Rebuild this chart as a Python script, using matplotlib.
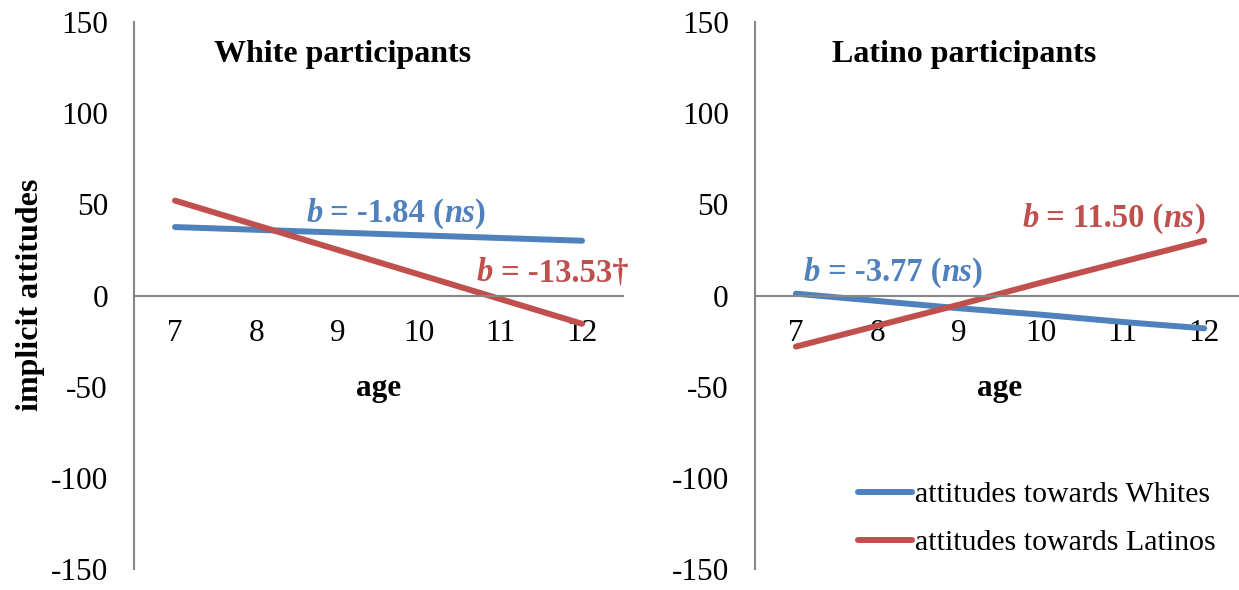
import numpy as np
import matplotlib
matplotlib.use("Agg")
import matplotlib.pyplot as plt

# data
ages = [7, 8, 9, 10, 11, 12]
white_to_whites = [37.5, 36.0, 34.5, 33.0, 31.5, 30.0]
white_to_latinos = [52.0, 38.5, 25.0, 11.5, -2.0, -15.5]
latino_to_whites = [1.0, -3.0, -7.0, -10.5, -14.5, -18.0]
latino_to_latinos = [-28.0, -16.5, -5.0, 7.0, 18.5, 30.0]
yticks = [-150, -100, -50, 0, 50, 100, 150]

BLUE = "#4F81BD"
RED = "#C0504D"
GREY = "#868686"
SERIF = ["Liberation Serif", "DejaVu Serif"]

plt.rcParams["font.family"] = SERIF
plt.rcParams["axes.unicode_minus"] = False


def chained_text(ax, x, y, parts, color, size):
    """draw text made of (string, style) pieces one after the other"""
    t = ax.text(x, y, parts[0][0], color=color, fontsize=size, fontweight="bold",
                fontstyle=parts[0][1], va="center", ha="left")
    for s, style in parts[1:]:
        t = ax.annotate(s, xy=(1, 0), xycoords=t, va="bottom", ha="left",
                        color=color, fontsize=size, fontweight="bold", fontstyle=style)


def setup(ax, title):
    ax.set_xlim(6.5, 12.5)
    ax.set_ylim(-150, 150)
    ax.set_yticks(yticks)
    ax.set_xticks(ages)
    ax.set_xticklabels([str(a) for a in ages])
    for s in ["top", "right"]:
        ax.spines[s].set_visible(False)
    ax.spines["bottom"].set_position(("data", 0))
    ax.spines["bottom"].set_color(GREY)
    ax.spines["left"].set_color(GREY)
    ax.spines["bottom"].set_linewidth(1.5)
    ax.spines["left"].set_linewidth(1.5)
    ax.tick_params(axis="both", length=0, labelsize=22.5)
    ax.tick_params(axis="y", pad=19)
    ax.tick_params(axis="x", pad=17)
    ax.text(0.427, 0.94, title, transform=ax.transAxes, ha="center", va="center",
            fontsize=23, fontweight="bold")
    ax.text(0.5, 0.331, "age", transform=ax.transAxes, ha="center", va="center",
            fontsize=22.5, fontweight="bold")
    ax.patch.set_visible(False)


fig = plt.figure(figsize=(12.39, 5.90), dpi=100)
ax1 = fig.add_axes([0.1084, 0.0351, 0.3942, 0.9281])
ax2 = fig.add_axes([0.6094, 0.0351, 0.3955, 0.9281])

ax1.plot(ages, white_to_whites, color=BLUE, lw=4.3, solid_capstyle="round",
         label="attitudes towards Whites")
ax1.plot(ages, white_to_latinos, color=RED, lw=4.3, solid_capstyle="round",
         label="attitudes towards Latinos")
ax2.plot(ages, latino_to_whites, color=BLUE, lw=4.3, solid_capstyle="round",
         label="attitudes towards Whites")
ax2.plot(ages, latino_to_latinos, color=RED, lw=4.3, solid_capstyle="round",
         label="attitudes towards Latinos")

setup(ax1, "White participants")
setup(ax2, "Latino participants")

chained_text(ax1, 8.61, 45, [("b", "italic"), (" = -1.84 (", "normal"), ("ns", "italic"), (")", "normal")], BLUE, 23.5)
chained_text(ax1, 10.70, 12.5, [("b", "italic"), (" = -13.53\u2020", "normal")], RED, 23.5)
chained_text(ax2, 7.09, 12.5, [("b", "italic"), (" = -3.77 (", "normal"), ("ns", "italic"), (")", "normal")], BLUE, 23.5)
chained_text(ax2, 9.77, 42, [("b", "italic"), (" = 11.50 (", "normal"), ("ns", "italic"), (")", "normal")], RED, 23.5)

ax2.legend(loc="center left", bbox_to_anchor=(0.21, 0.092), frameon=False, fontsize=21.5,
           handlelength=1.8, handletextpad=0.1, labelspacing=0.7, borderpad=0, borderaxespad=0)

fig.text(0.025, 0.5, "implicit attitudes", rotation=90, ha="center", va="center",
         fontsize=23, fontweight="bold")

fig.savefig("out.png", dpi=100)
